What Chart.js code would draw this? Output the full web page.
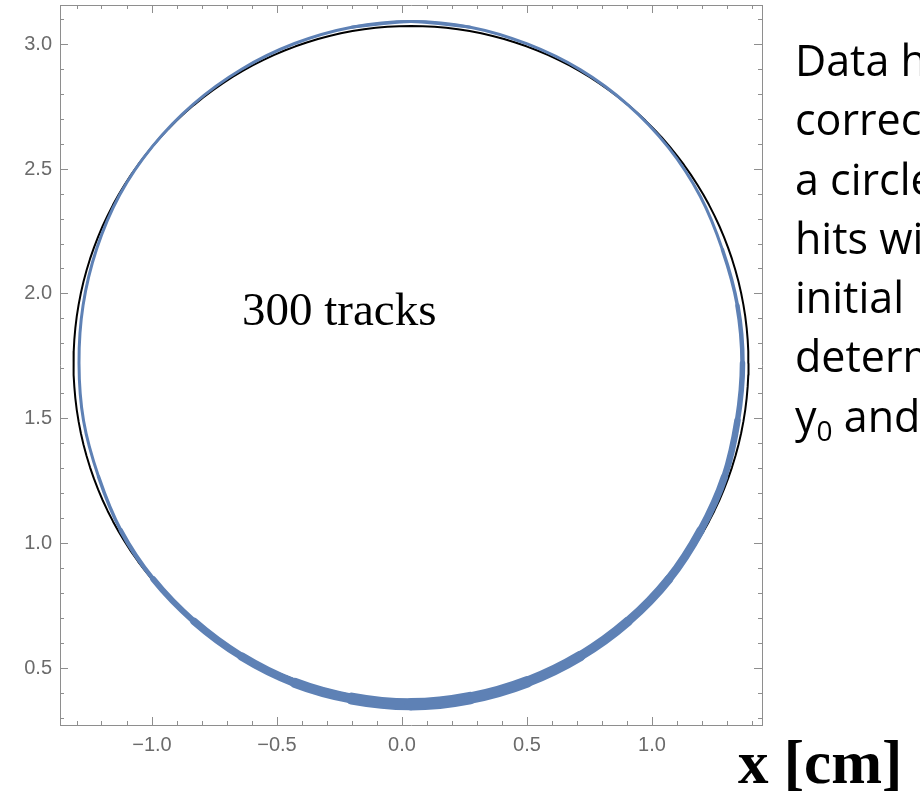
<!DOCTYPE html>
<html>
<head>
<meta charset="utf-8">
<script src="https://cdn.jsdelivr.net/npm/chart.js"></script>
<style>
  html, body { margin: 0; padding: 0; background: #fff; overflow: hidden; }
  #wrap { position: absolute; left: 0; top: 0; width: 920px; height: 794px; }
  .note { position: absolute; white-space: nowrap; color: #000; }
  #side { left: 795px; top: 30px; font-family: "Open Sans", sans-serif; font-size: 43px; line-height: 59.3px; }
  #tracks { left: 242px; top: 286px; font-family: "Liberation Serif", "Times New Roman", serif; font-size: 47px; line-height: 47px; }
  #xlabel { left: 738px; top: 732px; font-family: "Liberation Serif", "Times New Roman", serif; font-weight: bold; font-size: 61px; line-height: 61px; }
  .sub { font-size: 28px; position: relative; top: 9px; }
</style>
</head>
<body>
<div id="wrap"><canvas id="c"></canvas></div>
<div class="note" id="side">Data h<br>correc<br>a circle<br>hits wi<br>initial<br>determ<br>y<span class="sub">0</span> and</div>
<div class="note" id="tracks">300 tracks</div>
<div class="note" id="xlabel">x [cm]</div>
<script>
// Plot window (cm)
const X_MIN = -1.368, X_MAX = 1.44;
const Y_MIN = 0.274, Y_MAX = 3.157;

// Fitted circle: centre (x0, y0) and radius, in cm
const FIT_X0 = 0.036;
const FIT_Y0 = 1.723;
const FIT_R = 1.35;

// Hit band around the fit, sampled by polar angle (degrees, counter-clockwise from +x)
const HIT_ANGLES = [0, 10, 20, 30, 40, 50, 60, 70, 80, 90, 100, 110,
                    120, 130, 140, 150, 160, 170, 180, 190, 200, 210, 220, 230,
                    240, 250, 260, 270, 280, 290, 300, 310, 320, 330, 340, 350];
// radial residual of the band centre from the fitted circle (cm, outward positive)
const HIT_OFFSET = [-0.024, -0.024, -0.024, -0.014, -0.006, 0.000, 0.006, 0.010, 0.016, 0.018, 0.016, 0.012,
                     0.008, 0.004, 0.000, -0.004, -0.012, -0.018, -0.022, -0.020, -0.020, -0.010, -0.004, 0.000,
                     0.006, 0.012, 0.014, 0.016, 0.012, 0.008, 0.004, 0.000, -0.004, -0.012, -0.016, -0.024];
// radial spread of the hits (cm)
const HIT_SPREAD = [0.020, 0.016, 0.012, 0.012, 0.012, 0.012, 0.012, 0.012, 0.012, 0.012, 0.012, 0.012,
                    0.012, 0.012, 0.012, 0.012, 0.012, 0.012, 0.012, 0.012, 0.012, 0.016, 0.020, 0.028,
                    0.032, 0.036, 0.044, 0.052, 0.048, 0.044, 0.040, 0.036, 0.036, 0.032, 0.028, 0.024];

const X_MINOR = 0.1, X_MAJOR = 0.5;
const Y_MINOR = 0.1, Y_MAJOR = 0.5;

const FRAME = '#8e8e8e';
const LABEL = '#6b6b6b';
const HIT_BLUE = '#5E81B5';

const rad = d => d * Math.PI / 180;

// fitted circle as a closed curve
const fitCurve = [];
for (let a = 0; a <= 360; a += 2) {
  fitCurve.push({ x: FIT_X0 + FIT_R * Math.cos(rad(a)), y: FIT_Y0 + FIT_R * Math.sin(rad(a)) });
}

// hit band centre line: walk the samples starting at the top (90 deg, thinnest part),
// going one sample past each end so the smoothed curve closes without a kink
const N = HIT_ANGLES.length;
const START = HIT_ANGLES.indexOf(90);
const hitIdx = [];
for (let k = -1; k <= N + 1; k++) hitIdx.push(((START + k) % N + N) % N);
const hitBand = hitIdx.map(i => {
  const r = FIT_R + HIT_OFFSET[i];
  return { x: FIT_X0 + r * Math.cos(rad(HIT_ANGLES[i])), y: FIT_Y0 + r * Math.sin(rad(HIT_ANGLES[i])) };
});

const isMajor = v => Math.abs(v / 0.5 - Math.round(v / 0.5)) < 1e-6;
const fmt = v => {
  if (Math.abs(v) < 1e-9) return '0.0';
  const s = v.toFixed(1);
  return s.startsWith('-') ? '\u2212' + s.slice(1) : s;
};

// pixels per cm along x, refreshed once the scales are laid out
let pxPerCm = 250;
const scaleProbe = {
  id: 'scaleProbe',
  afterLayout(c) {
    const sx = c.scales.x;
    pxPerCm = Math.abs(sx.getPixelForValue(1) - sx.getPixelForValue(0));
  }
};

function axis(opts) {
  const horiz = opts.position === 'top' || opts.position === 'bottom';
  return {
    type: 'linear',
    position: opts.position,
    min: horiz ? X_MIN : Y_MIN,
    max: horiz ? X_MAX : Y_MAX,
    weight: opts.weight || 0,
    ticks: {
      stepSize: opts.step,
      includeBounds: false,
      autoSkip: false,
      maxRotation: 0,
      display: !!opts.labels,
      padding: 12,
      color: LABEL,
      font: { family: '"Liberation Sans", Arial, sans-serif', size: 20 },
      callback: v => (isMajor(v) ? fmt(v) : '')
    },
    grid: {
      drawOnChartArea: false,
      drawTicks: true,
      tickLength: opts.tickLength,
      tickColor: FRAME,
      tickWidth: 1
    },
    border: { display: !!opts.border, color: FRAME, width: 1 },
    afterFit: s => {
      if (horiz) s.height = opts.size; else s.width = opts.size;
      s.paddingTop = 0; s.paddingBottom = 0; s.paddingLeft = 0; s.paddingRight = 0;
    }
  };
}

new Chart(document.getElementById('c'), {
  type: 'scatter',
  data: {
    datasets: [
      {
        label: 'hits',
        data: hitBand,
        showLine: true,
        order: 0,
        pointRadius: 0,
        tension: 0.3,
        borderColor: HIT_BLUE,
        borderCapStyle: 'round',
        borderJoinStyle: 'round',
        borderWidth: 3,
        segment: {
          borderWidth: ctx => {
            const i0 = hitIdx[ctx.p0DataIndex], i1 = hitIdx[ctx.p1DataIndex];
            return (HIT_SPREAD[i0] + HIT_SPREAD[i1]) / 2 * pxPerCm;
          }
        }
      },
      {
        label: 'fit',
        data: fitCurve,
        showLine: true,
        order: 1,
        pointRadius: 0,
        tension: 0,
        borderColor: '#000',
        borderWidth: 2,
        borderJoinStyle: 'round'
      }
    ]
  },
  plugins: [scaleProbe],
  options: {
    responsive: true,
    maintainAspectRatio: false,
    animation: false,
    events: [],
    layout: { padding: { left: 0, top: 5, right: 158, bottom: 0 } },
    plugins: { legend: { display: false }, tooltip: { enabled: false } },
    scales: {
      x:  axis({ position: 'bottom', step: X_MINOR, tickLength: -4, labels: true, border: true, size: 69 }),
      xM: axis({ position: 'bottom', step: X_MAJOR, tickLength: -8, size: 0, weight: -1 }),
      x2: axis({ position: 'top', step: X_MINOR, tickLength: -4, border: true, size: 0 }),
      x2M: axis({ position: 'top', step: X_MAJOR, tickLength: -8, size: 0, weight: -1 }),
      y:  axis({ position: 'left', step: Y_MINOR, tickLength: -4, labels: true, border: true, size: 60 }),
      yM: axis({ position: 'left', step: Y_MAJOR, tickLength: -8, size: 0, weight: -1 }),
      y2: axis({ position: 'right', step: Y_MINOR, tickLength: -4, border: true, size: 0 }),
      y2M: axis({ position: 'right', step: Y_MAJOR, tickLength: -8, size: 0, weight: -1 })
    }
  }
});
</script>
</body>
</html>
